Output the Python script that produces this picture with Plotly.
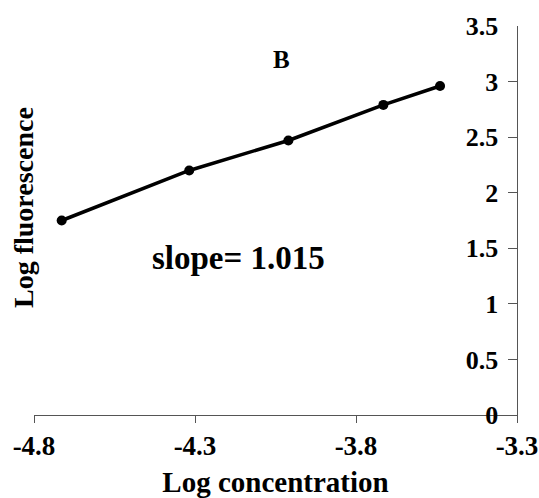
import plotly.graph_objects as go

log_conc = [-4.714, -4.318, -4.01, -3.715, -3.539]
log_fluor = [1.75, 2.20, 2.47, 2.79, 2.96]

x_tickvals = [-4.8, -4.3, -3.8, -3.3]
x_ticktext = ["-4.8", "-4.3", "-3.8", "-3.3"]
y_tickvals = [0, 0.5, 1, 1.5, 2, 2.5, 3, 3.5]
y_ticktext = ["0", "0.5", "1", "1.5", "2", "2.5", "3", "3.5"]

FONT = "Liberation Serif"

fig = go.Figure()
fig.add_trace(go.Scatter(
    x=log_conc, y=log_fluor, mode="lines+markers",
    line=dict(color="black", width=3.5),
    marker=dict(color="black", size=10),
    showlegend=False,
))

fig.update_layout(
    width=539, height=498,
    margin=dict(l=34, r=22, t=26, b=83),
    paper_bgcolor="white", plot_bgcolor="white",
    font=dict(family=FONT, color="black"),
    xaxis=dict(
        range=[-4.8, -3.3], tickvals=x_tickvals, automargin=False,
        ticktext=["<b>%s</b>" % t for t in x_ticktext],
        showgrid=False, zeroline=False, showline=True, linecolor="#555", linewidth=1,
        ticks="outside", ticklen=7, tickcolor="#555", ticklabeloverflow="allow",
        tickfont=dict(family=FONT, size=27, color="black"),
        title=dict(text="<b>Log concentration</b>", font=dict(family=FONT, size=29), standoff=12),
    ),
    yaxis=dict(
        range=[0, 3.5], tickvals=y_tickvals, automargin=False,
        ticktext=["<b>%s</b>" % t for t in y_ticktext], side="right",
        showgrid=False, zeroline=False, showline=True, linecolor="#555", linewidth=1,
        ticks="inside", ticklen=9, tickcolor="#555", ticklabelposition="inside",
        ticklabelstandoff=12, ticklabeloverflow="allow",
        tickfont=dict(family=FONT, size=26, color="black"),
    ),
    annotations=[
        dict(text="<b>B</b>", x=-4.03, y=3.2, xref="x", yref="y", showarrow=False,
             font=dict(family=FONT, size=25)),
        dict(text="<b>slope= 1.015</b>", x=-4.165, y=1.41, xref="x", yref="y", showarrow=False,
             font=dict(family=FONT, size=33)),
        dict(text="<b>Log fluorescence</b>", x=-10/483, y=(415-208)/389, xref="paper", yref="paper",
             showarrow=False, textangle=-90, xanchor="center", yanchor="middle",
             font=dict(family=FONT, size=28)),
    ],
)

fig.write_html("out.html")
